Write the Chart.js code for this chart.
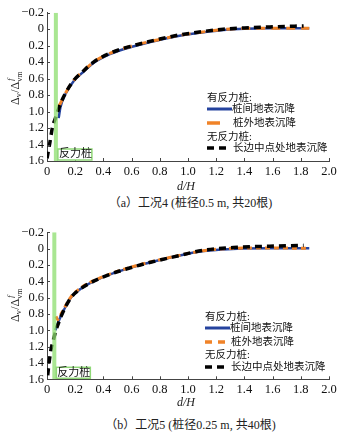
<!DOCTYPE html>
<html>
<head>
<meta charset="utf-8">
<script src="https://cdn.jsdelivr.net/npm/chart.js@4.4.1/dist/chart.umd.min.js"></script>
<style>
  body { margin: 0; background: #fff; width: 353px; height: 438px; overflow: hidden; position: relative;
         font-family: "Liberation Serif", "Noto Sans CJK SC", serif; }
  canvas { position: absolute; left: 0; }
  .cap { position: absolute; left: 14px; width: 353px; text-align: center; font-size: 12px; color: #222; line-height: 16px; }
</style>
</head>
<body>
<canvas id="c1" width="353" height="195" style="top:0"></canvas>
<div class="cap" style="top:195px">（a）工况4 (桩径0.5 m, 共20根)</div>
<canvas id="c2" width="353" height="200" style="top:215px"></canvas>
<div class="cap" style="top:417px">（b）工况5 (桩径0.25 m, 共40根)</div>
<script>
// case 4 (top)
const blueX4 = [0.083, 0.095, 0.13, 0.19, 0.25, 0.33, 0.45, 0.61, 0.8, 0.94, 1.1, 1.25, 1.4, 1.58, 1.86];
const blueY4 = [1.08, 0.95, 0.79, 0.63, 0.53, 0.41, 0.30, 0.21, 0.13, 0.08, 0.04, 0.01, -0.005, -0.01, -0.01];
const orangeX4 = [0.083, 0.095, 0.13, 0.19, 0.25, 0.33, 0.45, 0.61, 0.8, 0.94, 1.1, 1.25, 1.4, 1.58, 1.86];
const orangeY4 = [0.94, 0.9, 0.78, 0.62, 0.52, 0.40, 0.29, 0.20, 0.125, 0.075, 0.035, 0.005, -0.008, -0.012, -0.01];
const blackX4 = [0.0, 0.02, 0.04, 0.06, 0.09, 0.13, 0.19, 0.25, 0.33, 0.45, 0.61, 0.8, 0.94, 1.1, 1.25, 1.4, 1.58, 1.82];
const blackY4 = [1.57, 1.38, 1.18, 1.08, 0.93, 0.78, 0.62, 0.52, 0.40, 0.29, 0.20, 0.12, 0.07, 0.03, 0.0, -0.015, -0.027, -0.04];
const pileX4 = 0.063;

// case 5 (bottom)
const blueX5 = [0.059, 0.08, 0.1, 0.17, 0.24, 0.38, 0.62, 0.95, 1.11, 1.35, 1.58, 1.86];
const blueY5 = [1.0, 0.9, 0.82, 0.6, 0.49, 0.36, 0.22, 0.08, 0.03, 0.0, -0.005, -0.005];
const orangeX5 = [0.064, 0.075, 0.1, 0.17, 0.24, 0.38, 0.62, 0.95, 1.11, 1.35, 1.58, 1.85];
const orangeY5 = [0.83, 0.87, 0.8, 0.59, 0.48, 0.355, 0.215, 0.078, 0.025, -0.005, -0.008, -0.004];
const blackX5 = [0.005, 0.016, 0.028, 0.045, 0.064, 0.1, 0.17, 0.24, 0.38, 0.62, 0.95, 1.11, 1.35, 1.58, 1.82];
const blackY5 = [1.55, 1.38, 1.24, 1.12, 1.0, 0.83, 0.6, 0.49, 0.36, 0.22, 0.08, 0.02, -0.016, -0.03, -0.04];
const pileX5 = 0.052;

const legendHead1 = "有反力桩:";
const legendHead2 = "无反力桩:";
const seriesNames = ["桩间地表沉降", "桩外地表沉降", "长边中点处地表沉降"];
const pileLabel = "反力桩";

const BLUE = "#25439e", ORANGE = "#f08328", GREEN = "rgba(140,222,110,0.75)";
const SERIF = '"Liberation Serif", "Noto Sans CJK SC", serif';

function pts(xs, ys) { return xs.map((x, i) => ({ x: x, y: ys[i] })); }
function fmt(v) { return Math.abs(v) < 1e-9 ? "0" : (v < 0 ? "\u2212" + (-v).toFixed(1) : v.toFixed(1)); }

const decor = {
  id: "decor",
  afterDraw(chart, args, o) {
    const ctx = chart.ctx, a = chart.chartArea, xs = chart.scales.x, ys = chart.scales.y;
    ctx.save();
    // inward ticks
    ctx.strokeStyle = "#444"; ctx.lineWidth = 1;
    ctx.beginPath();
    xs.ticks.forEach(t => { const p = Math.round(xs.getPixelForValue(t.value)) + 0.5; ctx.moveTo(p, a.bottom); ctx.lineTo(p, a.bottom - 3); });
    ys.ticks.forEach(t => { const p = Math.round(ys.getPixelForValue(t.value)) + 0.5; ctx.moveTo(a.left, p); ctx.lineTo(a.left + 3, p); });
    ctx.stroke();

    // pile label box
    const bx = xs.getPixelForValue(o.pileX) + 2;
    ctx.fillStyle = "#fff"; ctx.fillRect(bx, a.bottom - 12, 34, 11);
    ctx.strokeStyle = "#8fd877"; ctx.lineWidth = 1.5; ctx.strokeRect(bx, a.bottom - 12, 34, 11);
    ctx.fillStyle = "#111"; ctx.font = "11px " + SERIF; ctx.textBaseline = "middle"; ctx.textAlign = "left";
    ctx.fillText(pileLabel, bx + 1, a.bottom - 6.5);

    // y title
    ctx.save();
    ctx.translate(15, o.yTitleY); ctx.rotate(-Math.PI / 2);
    ctx.fillStyle = "#222"; ctx.textBaseline = "alphabetic";
    let x = -17;
    const big = "12px " + SERIF, sm = "8px " + SERIF;
    ctx.font = big; ctx.fillText("\u0394", x, 4); x += ctx.measureText("\u0394").width;
    ctx.font = sm; ctx.fillText("v", x, 6); x += ctx.measureText("v").width + 0.5;
    ctx.font = big; ctx.fillText("/\u0394", x, 4); x += ctx.measureText("/\u0394").width;
    ctx.font = "italic " + sm; ctx.fillText("f", x + 1, -2);
    ctx.font = sm; ctx.fillText("vm", x, 7);
    ctx.restore();

    // x title
    ctx.font = "italic 12px " + SERIF; ctx.textAlign = "center"; ctx.textBaseline = "middle"; ctx.fillStyle = "#222";
    ctx.fillText("d/H", (a.left + a.right) / 2 - 2, o.xTitleY);

    // legend
    const L = o.legend;
    ctx.textAlign = "left"; ctx.font = "10.5px " + SERIF; ctx.fillStyle = "#111";
    ctx.fillText(legendHead1, L.x, L.y[0]);
    ctx.fillText(seriesNames[0], L.tx, L.y[1]);
    ctx.fillText(seriesNames[1], L.tx + 1, L.y[2]);
    ctx.fillText(legendHead2, L.x, L.y[3]);
    ctx.fillText(seriesNames[2], L.tx + 1, L.y[4]);
    ctx.lineCap = "butt";
    ctx.strokeStyle = BLUE; ctx.lineWidth = 3; ctx.setLineDash([]);
    ctx.beginPath(); ctx.moveTo(L.x, L.y[1]); ctx.lineTo(L.x + 25, L.y[1]); ctx.stroke();
    ctx.strokeStyle = ORANGE; ctx.lineWidth = 3.5; ctx.setLineDash(L.orangeDash);
    ctx.beginPath(); ctx.moveTo(L.x, L.y[2]); ctx.lineTo(L.x + 20, L.y[2]); ctx.stroke();
    ctx.strokeStyle = "#000"; ctx.lineWidth = 3.5; ctx.setLineDash([7, 5]);
    ctx.beginPath(); ctx.moveTo(L.x, L.y[4]); ctx.lineTo(L.x + 19, L.y[4]); ctx.stroke();
    ctx.restore();
  }
};

function makeChart(id, d, pad, deco) {
  return new Chart(document.getElementById(id), {
    type: "scatter",
    data: {
      datasets: [
        { data: [{ x: d.pile, y: -0.2 }, { x: d.pile, y: 1.6 }], borderColor: GREEN, borderWidth: 4, order: 0 },
        { data: pts(d.bx, d.by), borderColor: "#000", borderWidth: 3.5, borderDash: [7, 5], order: 1 },
        { data: pts(d.ox, d.oy), borderColor: ORANGE, borderWidth: 3, borderDash: d.orangeDash, order: 2 },
        { data: pts(d.lx, d.ly), borderColor: BLUE, borderWidth: 2.5, order: 3 }
      ].map(ds => Object.assign(ds, { showLine: true, pointRadius: 0, cubicInterpolationMode: "monotone", fill: false }))
    },
    plugins: [decor],
    options: {
      responsive: false,
      animation: false,
      layout: { padding: pad },
      plugins: { legend: { display: false }, tooltip: { enabled: false }, decor: deco },
      scales: {
        x: {
          type: "linear", min: 0, max: 2,
          ticks: { stepSize: 0.2, autoSkip: false, padding: 3, color: "#111", font: { family: SERIF, size: 12.5 }, callback: fmt, maxRotation: 0 },
          grid: { display: false, drawTicks: false },
          border: { display: true, color: "#444", width: 1 },
          afterFit: s => { s.height = 20; }
        },
        y: {
          type: "linear", min: -0.2, max: 1.6, reverse: true,
          ticks: { stepSize: 0.2, autoSkip: false, padding: 3, color: "#111", font: { family: SERIF, size: 12.5 }, callback: fmt },
          grid: { display: false, drawTicks: false },
          border: { display: true, color: "#444", width: 1 },
          afterFit: s => { s.width = 47; }
        }
      }
    }
  });
}

makeChart("c1",
  { pile: pileX4, bx: blackX4, by: blackY4, ox: orangeX4, oy: orangeY4, lx: blueX4, ly: blueY4, orangeDash: [9, 6] },
  { top: 12.7, right: 24, bottom: 14, left: 0 },
  { pileX: pileX4, yTitleY: 88, xTitleY: 187, legend: { x: 207, tx: 232, y: [98, 109, 123, 137, 148], orangeDash: [13, 20] } });

makeChart("c2",
  { pile: pileX5, bx: blackX5, by: blackY5, ox: orangeX5, oy: orangeY5, lx: blueX5, ly: blueY5, orangeDash: [5, 4] },
  { top: 17.3, right: 24, bottom: 15.7, left: 0 },
  { pileX: pileX5, yTitleY: 90, xTitleY: 188, legend: { x: 205, tx: 230, y: [102, 113, 127, 140, 152], orangeDash: [7, 6] } });
</script>
</body>
</html>
